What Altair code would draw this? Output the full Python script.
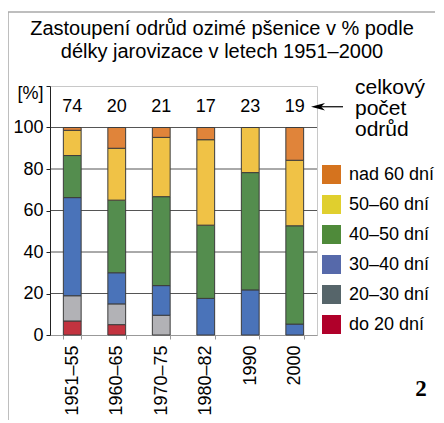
import altair as alt
import pandas as pd

periods = ["1951–55", "1960–65", "1970–75", "1980–82", "1990", "2000"]
totals = [74, 20, 21, 17, 23, 19]
categories = ["do 20 dní", "20–30 dní", "30–40 dní", "40–50 dní", "50–60 dní", "nad 60 dní"]
# number of varieties in each category
cnt_do20 = [5, 1, 0, 0, 0, 0]
cnt_20_30 = [9, 2, 2, 0, 0, 0]
cnt_30_40 = [35, 3, 3, 3, 5, 1]
cnt_40_50 = [15, 7, 9, 6, 13, 9]
cnt_50_60 = [9, 5, 6, 7, 5, 6]
cnt_nad60 = [1, 2, 1, 1, 0, 3]
bar_colors = ["#c3333f", "#b2b2b6", "#4a73b9", "#548d4e", "#f0c246", "#e0843a"]
legend_colors = ["#b0002a", "#56656a", "#5669aa", "#4f8a3a", "#e0cf2e", "#d5731e"]
grid_vals = [20, 40, 60, 80, 100]
title_text = "Zastoupení odrůd ozimé pšenice v % podle\ndélky jarovizace v letech 1951–2000"
note = "celkový\npočet\nodrůd"
FONT = "Liberation Sans"

series = [cnt_do20, cnt_20_30, cnt_30_40, cnt_40_50, cnt_50_60, cnt_nad60]
rows = []
for ci, (cat, vals) in enumerate(zip(categories, series)):
    for pi, (p, v) in enumerate(zip(periods, vals)):
        if v > 0:
            rows.append({"period": p, "cat": cat, "idx": ci, "pct": v / totals[pi] * 100})
df = pd.DataFrame(rows)
df_tot = pd.DataFrame({"period": periods, "total": totals})
df_grid = pd.DataFrame({"v": grid_vals})
df_note = pd.DataFrame({"t": [note]})
df_title = pd.DataFrame({"t": [title_text]})
df_leg = pd.DataFrame({"cat": categories})
df_one = pd.DataFrame({"a": [1]})

x_enc = alt.X(
    "period:N", sort=periods,
    scale=alt.Scale(paddingInner=0.6, paddingOuter=0.3),
    axis=alt.Axis(title=None, labelAngle=-90, labelFontSize=18, labelColor="#000",
                  tickBand="extent", domainColor="#999", tickColor="#999", tickSize=4,
                  labelPadding=6, labelFont=FONT),
)
y_scale = alt.Scale(domain=[0, 120], nice=False)

# outer figure frame (top and left edges)
frame_top = alt.Chart(df_one).mark_rule(color="#a8a8a8", strokeWidth=1.5).encode(
    x=alt.value(-42), x2=alt.value(400), y=alt.value(-74)
)
frame_left = alt.Chart(df_one).mark_rule(color="#a8a8a8", strokeWidth=1.5).encode(
    x=alt.value(-42), y=alt.value(-74), y2=alt.value(340)
)

title_txt = alt.Chart(df_title).mark_text(align="center", baseline="alphabetic", fontSize=20,
                                          lineHeight=23, lineBreak="\n", font=FONT,
                                          color="#000").encode(
    x=alt.value(172), y=alt.value(-51), text="t:N"
)

grid = alt.Chart(df_grid).mark_rule(color="#2a2a2a", strokeWidth=0.8).encode(
    y=alt.Y("v:Q", scale=y_scale)
)

bars = alt.Chart(df).mark_bar(stroke="#3c3c3c", strokeWidth=1).encode(
    x=x_enc,
    y=alt.Y("pct:Q", stack="zero", scale=y_scale,
            axis=alt.Axis(values=[0, 20, 40, 60, 80, 100, 120],
                          labelExpr="datum.value > 100 ? '' : datum.label",
                          grid=False, domainColor="#222", tickColor="#222", tickSize=4,
                          labelFontSize=18, labelPadding=3, labelColor="#000", labelFont=FONT,
                          title="[%]", titleAngle=0, titleX=-20, titleY=7, titleAlign="center",
                          titleBaseline="middle", titleFontSize=18, titleFontWeight="normal",
                          titleFont=FONT, titleColor="#000")),
    color=alt.Color("cat:N", scale=alt.Scale(domain=categories, range=bar_colors), legend=None),
    order=alt.Order("idx:Q"),
)

counts = alt.Chart(df_tot).mark_text(fontSize=18, baseline="middle", font=FONT, color="#000").encode(
    x=alt.X("period:N", sort=periods),
    y=alt.datum(110),
    text="total:Q",
)

note_txt = alt.Chart(df_note).mark_text(align="left", baseline="middle", fontSize=21,
                                        lineHeight=21, lineBreak="\n", font=FONT,
                                        color="#000", dy=-19).encode(
    x=alt.value(305), y=alt.datum(110), text="t:N"
)

arrow_line = alt.Chart(df_one).mark_rule(color="#000", strokeWidth=1.2).encode(
    x=alt.value(266), x2=alt.value(293), y=alt.datum(110)
)
arrow_head = alt.Chart(df_one).mark_point(
    shape="M -1 0 L 1 -0.55 L 0.45 0 L 1 0.55 Z", size=196, filled=True,
    color="#000", opacity=1
).encode(x=alt.value(268), y=alt.datum(110))

fig_no = alt.Chart(df_one).mark_text(font="Liberation Serif", fontWeight="bold", fontSize=23,
                                     align="center", baseline="middle", color="#000").encode(
    x=alt.value(371), y=alt.value(303), text=alt.value("2")
)

legend_layer = alt.Chart(df_leg).mark_square(opacity=0).encode(
    x=alt.value(0), y=alt.value(0),
    color=alt.Color("cat:N",
                    scale=alt.Scale(domain=list(reversed(categories)),
                                    range=list(reversed(legend_colors))),
                    legend=alt.Legend(orient="none", legendX=272, legendY=79, title=None,
                                      symbolType="square", symbolSize=361, symbolOpacity=1,
                                      symbolStrokeWidth=0, labelFontSize=18, labelOffset=8,
                                      rowPadding=11, labelFont=FONT, labelColor="#000")),
)

chart = alt.layer(frame_top, frame_left, title_txt, grid, bars, counts, note_txt, arrow_line,
                  arrow_head, fig_no, legend_layer).resolve_scale(
    color="independent"
).properties(
    width=267, height=249,
    padding={"left": 42, "top": 78, "right": 118, "bottom": 85},
    autosize=alt.AutoSizeParams(type="none"),
).configure(font=FONT).configure_view(stroke="#c8c8c8")

chart.save("out.html", embed_options={"renderer": "svg", "actions": False})
